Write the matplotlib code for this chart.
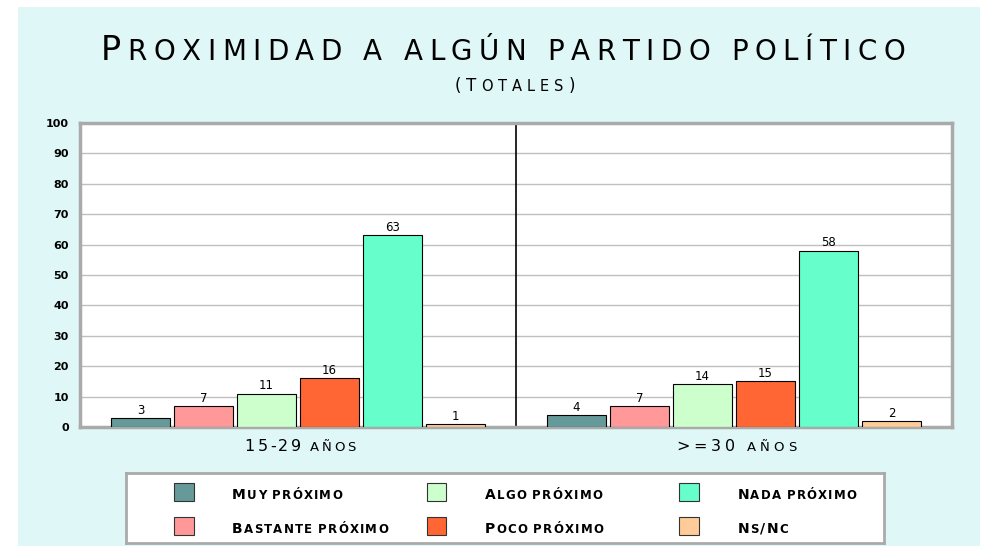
import matplotlib.pyplot as plt
from matplotlib.patches import Rectangle
from matplotlib.transforms import IdentityTransform

# data
groups = ["15-29 años", ">=30 años"]
series = ["Muy próximo", "Bastante próximo", "Algo próximo",
          "Poco próximo", "Nada próximo", "Ns/Nc"]
young = [3, 7, 11, 16, 63, 1]
older = [4, 7, 14, 15, 58, 2]
colors = ["#669999", "#ff9999", "#ccffcc", "#ff6633", "#66ffcc", "#ffcc99"]
yticks = list(range(0, 101, 10))

W, H = 983, 549
fig = plt.figure(figsize=(W / 100, H / 100), dpi=100)
fig.patch.set_facecolor("white")
renderer = fig.canvas.get_renderer()

# light cyan panel
fig.patches.append(Rectangle((18 / W, 3 / H), 962 / W, 539 / H,
                             transform=fig.transFigure, facecolor="#dff7f7",
                             edgecolor="none", zorder=-10))


def smallcaps(x, y, s, big, small, width=None, track=2.0, ha="left", **kw):
    """Draw s in fake small caps, x/y in pixels, y = baseline."""
    items = []
    for ch in s:
        if ch == " ":
            items.append(None)
            continue
        size = small if ch.islower() else big
        t = fig.text(0, 0, ch.upper(), fontsize=size, va="baseline",
                     ha="left", transform=IdentityTransform(), **kw)
        items.append((t, t.get_window_extent(renderer).width))
    space = small * 100 / 72 * 0.3
    ink = sum(it[1] for it in items if it) + space * items.count(None)
    if width is not None:
        track = (width - ink) / (len(items) - 1)
    total = ink + track * (len(items) - 1)
    x0 = x - total / 2 if ha == "center" else x
    for it in items:
        if it is None:
            x0 += space + track
            continue
        t, w = it
        t.set_position((x0, y))
        x0 += w + track


# main axes
ax = fig.add_axes([80 / W, 1 - 427 / H, 872 / W, 304 / H])
ax.set_facecolor("white")

bar_w = 0.135
step = 0.1445
for g, vals in enumerate([young, older]):
    for i, v in enumerate(vals):
        x = g + 0.5 + (i - 2.5) * step
        ax.bar(x, v, width=bar_w, color=colors[i], edgecolor="black",
               linewidth=0.8, zorder=3)
        ax.text(x, v + 0.4, str(v), ha="center", va="bottom", fontsize=8.5,
                zorder=4)

ax.axvline(1.0, color="black", linewidth=1.2, zorder=2)
ax.set_xlim(0, 2)
ax.set_ylim(0, 100)
ax.set_yticks(yticks)
ax.set_yticklabels([str(t) for t in yticks], fontsize=8, fontweight="bold")
ax.set_xticks([0.5, 1.5])
ax.set_xticklabels([])
ax.tick_params(length=0, pad=8)
ax.grid(axis="y", color="#c0c0c0", linewidth=1, zorder=0)
for s in ax.spines.values():
    s.set_color("#aaaaaa")
    s.set_linewidth(2.5)

# group labels
for g, (name, wd) in enumerate(zip(groups, [111, 120])):
    xc = ax.transData.transform((g + 0.5, 0))[0]
    smallcaps(xc + 2, H - 451, name, 11.5, 9.5, width=wd, ha="center")

# titles
smallcaps(101, H - 60, "Proximidad a algún partido político", 24, 20,
          width=804)
smallcaps(515, H - 91, "(Totales)", 12, 10.5, width=120, ha="center")

# legend
lax = fig.add_axes([126 / W, 1 - 543 / H, 758 / W, 70 / H])
lax.set_xlim(0, 3)
lax.set_ylim(0, 2)
lax.set_xticks([])
lax.set_yticks([])
lax.set_facecolor("white")
for s in lax.spines.values():
    s.set_color("#aaaaaa")
    s.set_linewidth(2)
for i, name in enumerate(series):
    col, row = i // 2, i % 2
    yc = 1.46 - 0.97 * row
    lax.add_patch(Rectangle((col + 0.19, yc - 0.26), 0.078, 0.52,
                            facecolor=colors[i], edgecolor="#333333",
                            linewidth=0.8))
    px, py = lax.transData.transform((col + 0.42, yc - 0.2))
    smallcaps(px, py, name, 10, 8.5, track=1.2, fontweight="bold")

fig.savefig("out.png", dpi=100, facecolor=fig.get_facecolor())
